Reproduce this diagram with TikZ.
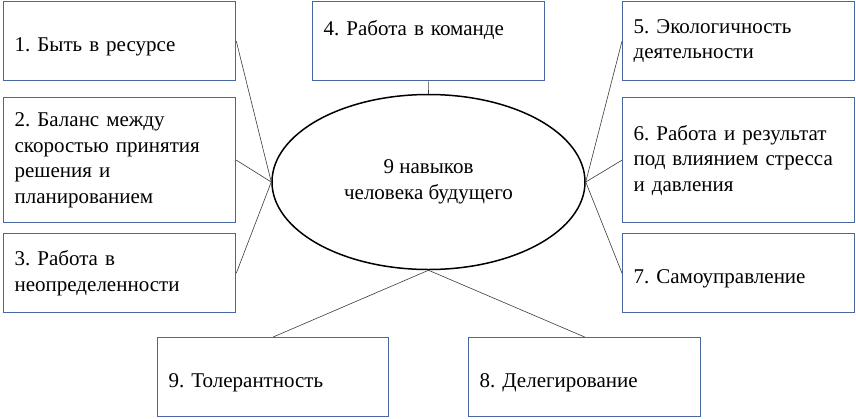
\documentclass[tikz,border=0pt]{standalone}
\usepackage{fontspec}
\setmainfont{Liberation Serif}
\usetikzlibrary{shapes.geometric}
\definecolor{BoxBlue}{HTML}{46679F}
\definecolor{LinkGray}{HTML}{3A3A3A}
\frenchspacing

\begin{document}
\begin{tikzpicture}[x=1pt,y=-1pt,
  every node/.style={font=\fontsize{21}{25.5}\selectfont},
  skill/.style={draw=BoxBlue, line width=1.3pt, anchor=north west, align=left,
    text width=210pt, inner xsep=11pt, inner ysep=0pt, minimum height=79pt},
  oneline/.style={text height=24pt, text depth=4pt},
  link/.style={draw=LinkGray, line width=0.6pt}]
  \useasboundingbox (0,0) rectangle (856,418);

  \node[ellipse, draw, line width=1.5pt, minimum width=313pt, minimum height=175pt,
    inner sep=0pt, align=center] (core) at (428.5,182) {9 навыков\\человека будущего};

  \node[skill, oneline] (s1) at (3,1) {1. Быть в ресурсе};
  \node[skill, minimum height=125pt] (s2) at (3,97)
    {2. Баланс между\\скоростью принятия\\решения и\\планированием};
  \node[skill] (s3) at (3,233) {3. Работа в\\неопределенности};
  \node[skill, text height=15pt, text depth=26pt] (s4) at (312,1) {4. Работа в команде};
  \node[skill] (s5) at (622,1) {5. Экологичность\\деятельности};
  \node[skill, minimum height=125pt] (s6) at (622,97)
    {6. Работа и результат\\под влиянием стресса\\и давления};
  \node[skill, oneline] (s7) at (622,233) {7. Самоуправление};
  \node[skill, oneline, text width=209pt] (s9) at (157,337) {9. Толерантность};
  \node[skill, oneline] (s8) at (468,337) {8. Делегирование};

  \draw[link] (s1.east) -- (core.west);
  \draw[link] (s2.east) -- (core.west);
  \draw[link] (s3.east) -- (core.west);
  \draw[link] (s4.south) -- (core.north);
  \draw[link] (s5.west) -- (core.east);
  \draw[link] (s6.west) -- (core.east);
  \draw[link] (s7.west) -- (core.east);
  \draw[link] (s9.north) -- (core.south);
  \draw[link] (s8.north) -- (core.south);
\end{tikzpicture}
\end{document}
